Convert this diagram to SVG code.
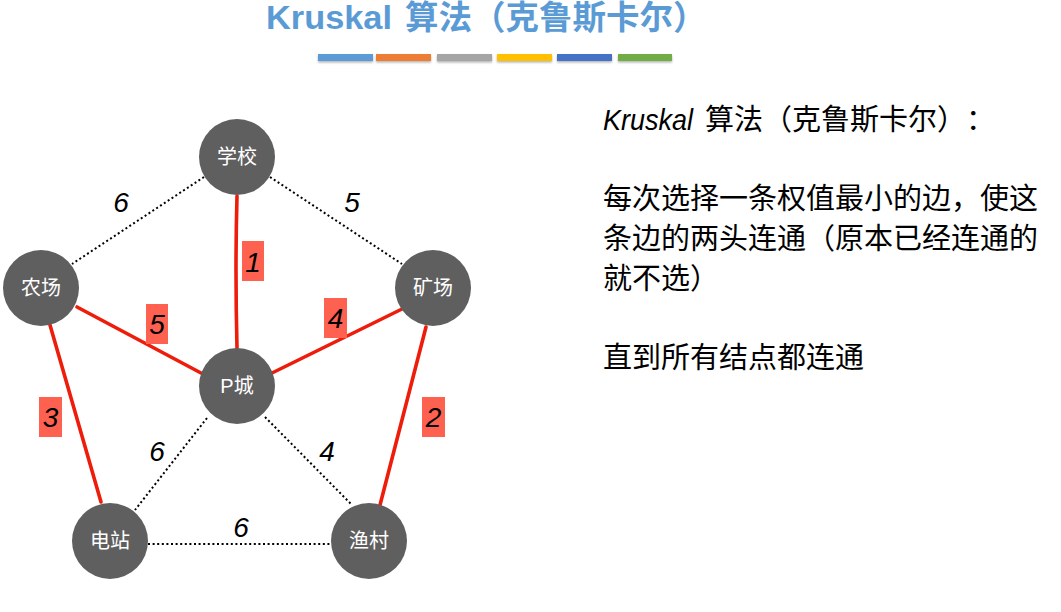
<svg xmlns="http://www.w3.org/2000/svg" width="1061" height="612" viewBox="0 0 1061 612">
<defs>
<style>
.node circle{fill:#5f5f5f}
.node text{fill:#fff;font-family:"Liberation Sans","Noto Sans CJK SC",sans-serif;font-size:20px;text-anchor:middle}
.mst{stroke:#ee1c0a;stroke-width:3.6;stroke-linecap:round;fill:none}
.dot{stroke:#000;stroke-width:2;stroke-dasharray:2 2.6;fill:none}
.box{fill:#ff6150}
.w{font-family:"Liberation Sans",sans-serif;font-style:italic;font-size:28px;fill:#000;text-anchor:middle}
.body{font-family:"Liberation Sans","Noto Sans CJK SC",sans-serif;font-size:29px;fill:#000}
</style>
<filter id="sh" x="-10%" y="-50%" width="120%" height="250%">
<feDropShadow dx="0" dy="1.5" stdDeviation="1" flood-color="#000" flood-opacity="0.3"/>
</filter>
</defs>
<rect width="1061" height="612" fill="#fff"/>
<g id="title" font-family="'Liberation Sans','Noto Sans CJK SC',sans-serif" font-size="33.5" font-weight="bold" fill="#5b9bd5">
<text x="266" y="28.5"><tspan textLength="126" lengthAdjust="spacingAndGlyphs">Kruskal</tspan><tspan x="405">算法（克鲁斯卡尔）</tspan></text>
<g filter="url(#sh)">
<rect x="318" y="54" width="55" height="7" fill="#5b9bd5"/>
<rect x="376" y="54" width="55" height="7" fill="#ed7d31"/>
<rect x="437" y="54" width="55" height="7" fill="#a5a5a5"/>
<rect x="497" y="54" width="55" height="7" fill="#ffc000"/>
<rect x="557" y="54" width="55" height="7" fill="#4472c4"/>
<rect x="618" y="54" width="54" height="7" fill="#70ad47"/>
</g>
</g>
<g id="connectors">
<line class="dot" x1="204" y1="177" x2="72" y2="264"/>
<line class="dot" x1="270" y1="177" x2="402" y2="264"/>
<line class="dot" x1="207" y1="418" x2="135" y2="510"/>
<line class="dot" x1="265" y1="417" x2="352" y2="505"/>
<line class="dot" x1="148" y1="544" x2="331" y2="544"/>
<path class="mst" d="M237 196 Q235 270 237 348"/>
<line class="mst" x1="77" y1="307" x2="201" y2="373"/>
<line class="mst" x1="402" y1="309" x2="272" y2="373"/>
<line class="mst" x1="50" y1="325" x2="101" y2="502"/>
<line class="mst" x1="426" y1="327" x2="380" y2="505"/>
<rect class="box" x="242" y="241" width="22" height="40"/>
<rect class="box" x="146" y="304" width="22" height="40"/>
<rect class="box" x="324" y="298" width="23" height="40"/>
<rect class="box" x="39" y="397" width="23" height="40"/>
<rect class="box" x="422" y="397" width="23" height="40"/>
<text class="w" x="253" y="272">1</text>
<text class="w" x="157" y="334">5</text>
<text class="w" x="335.5" y="328">4</text>
<text class="w" x="50.5" y="427">3</text>
<text class="w" x="433.5" y="427">2</text>
<text class="w" x="121" y="212">6</text>
<text class="w" x="352" y="212">5</text>
<text class="w" x="157" y="461">6</text>
<text class="w" x="327" y="461">4</text>
<text class="w" x="241" y="537">6</text>
</g>
<g id="n-school" class="node"><circle cx="237" cy="157" r="38"/><text x="237" y="164">学校</text></g>
<g id="n-farm" class="node"><circle cx="41" cy="288" r="38"/><text x="41" y="295">农场</text></g>
<g id="n-mine" class="node"><circle cx="433" cy="288" r="38"/><text x="433" y="295">矿场</text></g>
<g id="n-pcity" class="node"><circle cx="237" cy="386" r="38"/><text x="237" y="393">P城</text></g>
<g id="n-power" class="node"><circle cx="110" cy="541" r="38"/><text x="110" y="548">电站</text></g>
<g id="n-fish" class="node"><circle cx="369" cy="541" r="38"/><text x="369" y="548">渔村</text></g>
<g id="desc" class="body">
<text x="603" y="130"><tspan font-style="italic" textLength="90" lengthAdjust="spacingAndGlyphs">Kruskal</tspan><tspan x="705">算法（克鲁斯卡尔）</tspan><tspan x="966">：</tspan></text>
<text x="603" y="209">每次选择一条权值最小的边，使这</text>
<text x="603" y="249">条边的两头连通（原本已经连通的</text>
<text x="603" y="289">就不选）</text>
<text x="603" y="368">直到所有结点都连通</text>
</g>
</svg>
